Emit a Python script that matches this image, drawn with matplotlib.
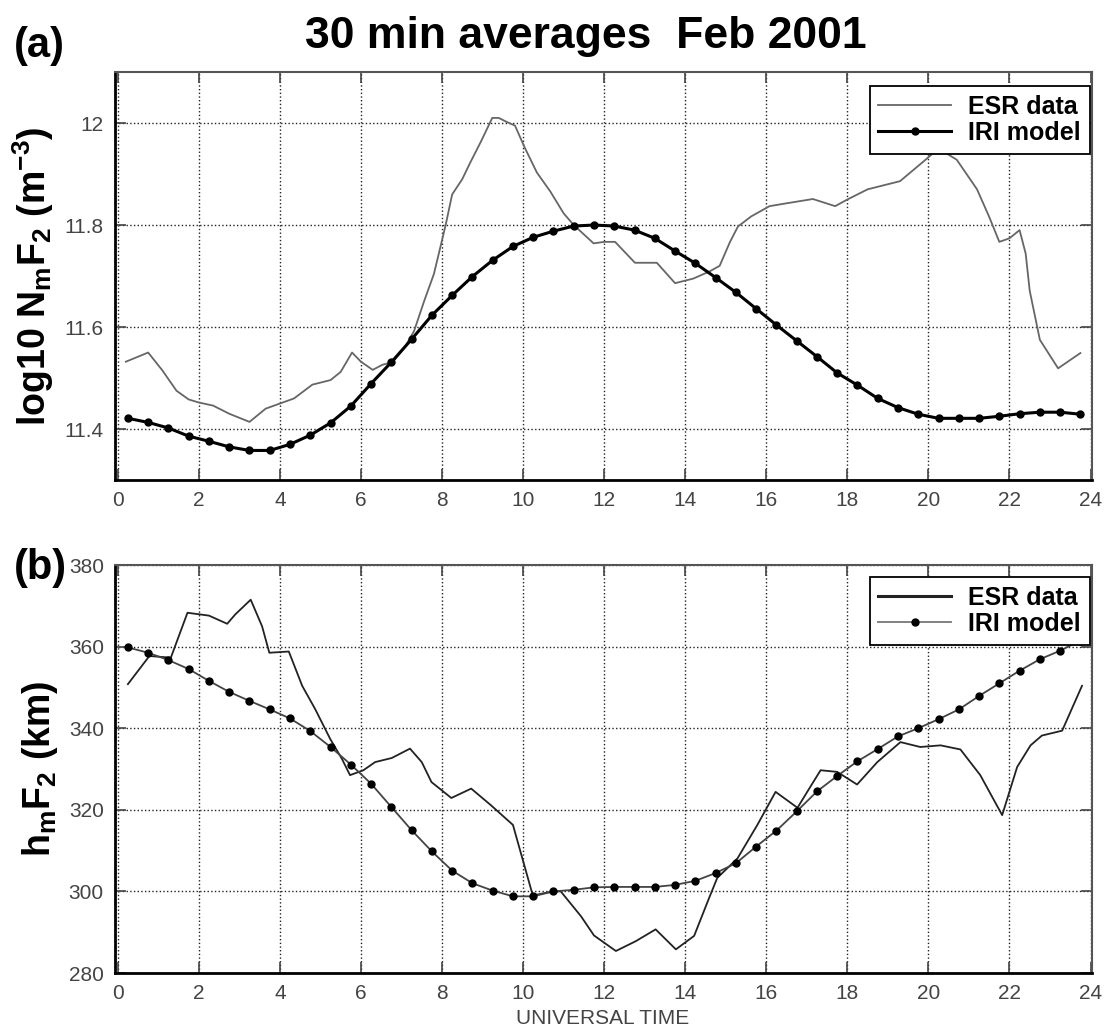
import numpy as np
import matplotlib
matplotlib.use("Agg")
import matplotlib.pyplot as plt

plt.rcParams["font.family"] = ["Liberation Sans", "DejaVu Sans"]
plt.rcParams["mathtext.fontset"] = "custom"
plt.rcParams["mathtext.rm"] = "Liberation Sans"
plt.rcParams["mathtext.bf"] = "Liberation Sans:bold"

# half-hourly model times
iri_t = np.arange(0.25, 24.0, 0.5)

# (a) log10 NmF2
esr_nm_t = [0.2, 0.75, 1.1, 1.45, 1.75, 2.0, 2.35, 2.75, 3.25, 3.65, 4.0, 4.35, 4.8, 5.25,
            5.5, 5.78, 6.0, 6.29, 6.53, 6.78, 7.07, 7.31, 7.56, 7.8, 8.09, 8.25, 8.5, 8.7,
            8.95, 9.24, 9.4, 9.6, 9.8, 10.04, 10.34, 10.67, 11.0, 11.25, 11.74, 12.0, 12.27,
            12.76, 13.3, 13.75, 14.2, 14.6, 14.85, 15.1, 15.3, 15.63, 16.08, 16.53, 17.15,
            17.7, 18.0, 18.5, 19.3, 19.9, 20.25, 20.7, 21.2, 21.5, 21.75, 22.0, 22.25, 22.4,
            22.5, 22.75, 23.2, 23.75]
esr_nm = [11.532, 11.55, 11.515, 11.475, 11.458, 11.452, 11.446, 11.43, 11.414, 11.44,
          11.45, 11.46, 11.487, 11.496, 11.512, 11.55, 11.532, 11.516, 11.526, 11.531,
          11.559, 11.592, 11.651, 11.704, 11.80, 11.86, 11.89, 11.923, 11.962, 12.01,
          12.01, 12.002, 11.995, 11.952, 11.903, 11.866, 11.823, 11.80, 11.764, 11.767,
          11.767, 11.726, 11.726, 11.686, 11.695, 11.709, 11.72, 11.766, 11.797, 11.817,
          11.837, 11.843, 11.851, 11.837, 11.85, 11.87, 11.886, 11.926, 11.95, 11.928,
          11.87, 11.816, 11.767, 11.774, 11.79, 11.744, 11.671, 11.575, 11.519, 11.549]
iri_nm = [11.421, 11.413, 11.402, 11.386, 11.376, 11.365, 11.358, 11.358, 11.370, 11.388,
          11.412, 11.445, 11.489, 11.531, 11.576, 11.623, 11.662, 11.699, 11.731, 11.758,
          11.776, 11.788, 11.798, 11.800, 11.798, 11.790, 11.774, 11.749, 11.725, 11.697,
          11.668, 11.636, 11.604, 11.573, 11.542, 11.510, 11.486, 11.460, 11.442, 11.429,
          11.421, 11.421, 11.421, 11.425, 11.430, 11.433, 11.433, 11.429]

# (b) hmF2
esr_hm_t = [0.25, 0.78, 1.31, 1.72, 2.25, 2.7, 2.9, 3.28, 3.56, 3.74, 4.22, 4.55, 4.87, 5.24,
            5.53, 5.73, 6.06, 6.35, 6.76, 7.21, 7.5, 7.74, 8.23, 8.72, 9.21, 9.75, 10.24,
            10.73, 10.93, 11.43, 11.75, 12.29, 12.78, 13.27, 13.77, 14.22, 14.59, 14.79,
            15.29, 15.78, 16.23, 16.77, 17.01, 17.34, 17.75, 18.24, 18.74, 19.31, 19.8,
            20.3, 20.79, 21.28, 21.82, 22.19, 22.52, 22.8, 23.3, 23.79]
esr_hm = [350.8, 357.7, 357.3, 368.3, 367.6, 365.6, 367.9, 371.5, 365.0, 358.5, 358.8,
          350.4, 344.7, 337.4, 332.5, 328.5, 329.7, 331.7, 332.7, 335.0, 331.7, 326.8,
          322.9, 325.2, 321.1, 316.3, 299.0, 300.0, 300.0, 293.9, 289.2, 285.4, 287.8,
          290.7, 285.8, 289.1, 298.4, 303.3, 308.1, 316.3, 324.4, 320.5, 324.4, 329.7,
          329.3, 326.2, 331.7, 336.6, 335.4, 335.8, 334.8, 328.5, 318.7, 330.5, 335.8,
          338.2, 339.4, 350.4]
iri_hm = [359.8, 358.5, 356.7, 354.5, 351.6, 348.9, 346.7, 344.6, 342.4, 339.3, 335.4,
          331.1, 326.4, 320.7, 315.0, 309.8, 305.1, 302.0, 300.2, 298.8, 298.8, 300.0,
          300.4, 301.0, 301.1, 301.1, 301.1, 301.6, 302.6, 304.5, 306.9, 311.0, 314.9,
          319.6, 324.5, 328.3, 331.9, 334.9, 338.0, 340.0, 342.2, 344.6, 347.9, 351.0,
          354.1, 356.9, 359.0, 361.5]

xticks = list(range(0, 25, 2))

fig = plt.figure(figsize=(11.05, 10.29), dpi=100)
ax1 = fig.add_axes([0.104, 0.5335, 0.884, 0.3965])
ax2 = fig.add_axes([0.104, 0.0544, 0.884, 0.3965])


def style(ax):
    ax.set_xlim(-0.07, 24.03)
    ax.set_xticks(xticks)
    ax.grid(True, linestyle=":", color="#222222", linewidth=1.0)
    ax.tick_params(direction="in", length=8, width=1.2, top=True, right=True,
                   colors="#444444", labelsize=15, pad=8)
    for s in ["left", "bottom"]:
        ax.spines[s].set_linewidth(2.0)
        ax.spines[s].set_color("black")
    for s in ["top", "right"]:
        ax.spines[s].set_linewidth(1.5)
        ax.spines[s].set_color("#555555")


# panel (a)
ax1.plot(esr_nm_t, esr_nm, color="#666666", lw=1.3, label="ESR data")
ax1.plot(iri_t, iri_nm, color="black", lw=2.2, marker="o", ms=5, label="IRI model")
ax1.set_ylim(11.3, 12.1)
ax1.set_yticks([11.4, 11.6, 11.8, 12.0])
ax1.set_yticklabels(["11.4", "11.6", "11.8", "12"])
style(ax1)
ax1.set_ylabel(r"log10 N$_{\mathbf{m}}$F$_{\mathbf{2}}$ (m$^{\mathbf{-3}}$)",
               fontsize=27, fontweight="bold", labelpad=6)
leg1 = ax1.legend(loc="upper right", bbox_to_anchor=(0.998, 0.966), borderaxespad=0,
                  fancybox=False, edgecolor="black", framealpha=1, handlelength=2.9,
                  handletextpad=0.7, labelspacing=0.1, borderpad=0.35,
                  prop=dict(weight="bold", size=18))
leg1.get_frame().set_linewidth(1.3)

# panel (b)
ax2.plot(esr_hm_t, esr_hm, color="#222222", lw=1.3, label="ESR data")
ax2.plot(iri_t, iri_hm, color="#444444", lw=1.3, marker="o", ms=5,
         markerfacecolor="black", markeredgecolor="black", label="IRI model")
ax2.set_ylim(280, 380)
ax2.set_yticks([280, 300, 320, 340, 360, 380])
style(ax2)
ax2.set_ylabel(r"h$_{\mathbf{m}}$F$_{\mathbf{2}}$ (km)", fontsize=27,
               fontweight="bold", labelpad=6)
leg2 = ax2.legend(loc="upper right", bbox_to_anchor=(0.998, 0.971), borderaxespad=0,
                  fancybox=False, edgecolor="black", framealpha=1, handlelength=2.9,
                  handletextpad=0.7, labelspacing=0.1, borderpad=0.35,
                  prop=dict(weight="bold", size=18))
leg2.get_frame().set_linewidth(1.3)
leg2.get_lines()[0].set_linewidth(2.2)
leg2.get_lines()[1].set_color("#777777")

fig.text(0.53, 0.965, "30 min averages  Feb 2001", ha="center", va="center",
         fontsize=32, fontweight="bold")
fig.text(0.013, 0.955, "(a)", ha="left", va="center", fontsize=30, fontweight="bold")
fig.text(0.013, 0.448, "(b)", ha="left", va="center", fontsize=30, fontweight="bold")
fig.text(0.545, 0.001, "UNIVERSAL TIME", ha="center", va="bottom",
         fontsize=15, color="#444444")

plt.savefig("out.png", dpi=100)
